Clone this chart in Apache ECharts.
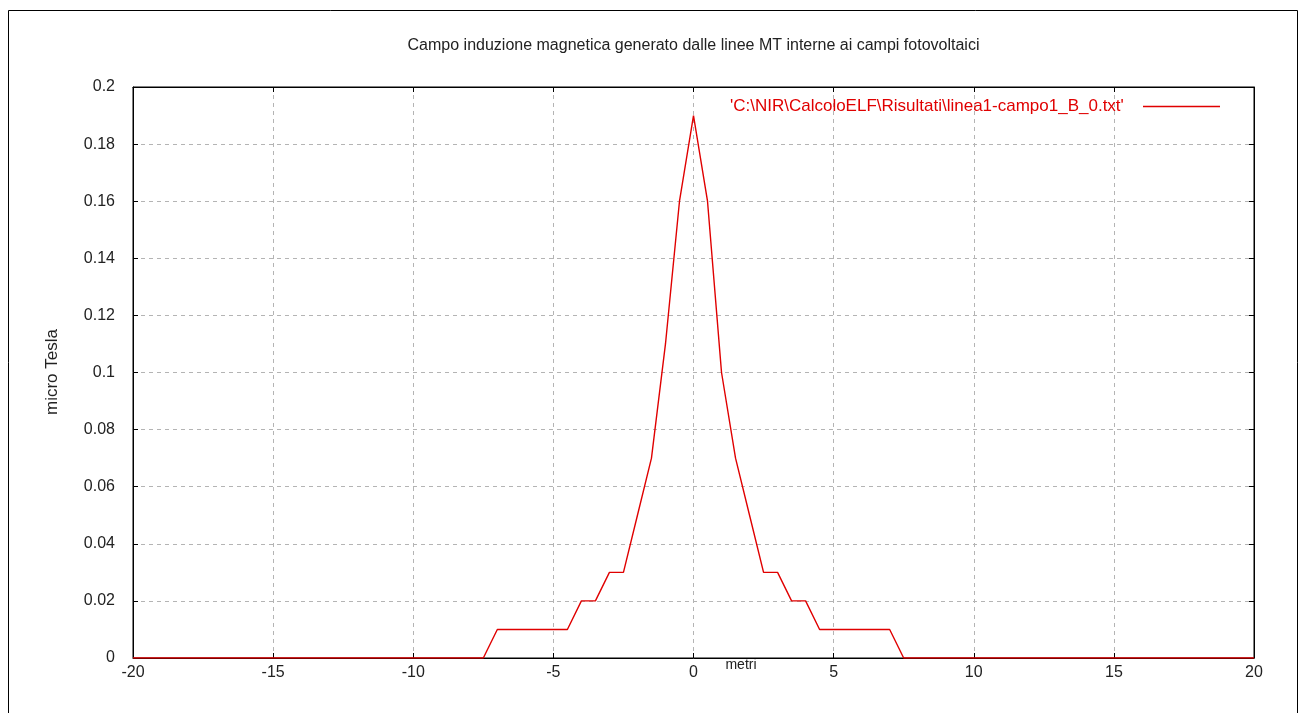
<!DOCTYPE html>
<html>
<head>
<meta charset="utf-8">
<script src="https://cdn.jsdelivr.net/npm/echarts@6/dist/echarts.min.js"></script>
<style>
html,body{margin:0;padding:0;background:#fff;}
#c{width:1306px;height:713px;}
</style>
</head>
<body>
<div id="c"></div>
<script>
var titleText = 'Campo induzione magnetica generato dalle linee MT interne ai campi fotovoltaici';
var seriesName = "'C:\\NIR\\CalcoloELF\\Risultati\\linea1-campo1_B_0.txt'";
var xLabel = 'metri';
var yLabel = 'micro Tesla';

// x positions in metres (0.5 m step)
var xValues = [
 -20,-19.5,-19,-18.5,-18,-17.5,-17,-16.5,-16,-15.5,
 -15,-14.5,-14,-13.5,-13,-12.5,-12,-11.5,-11,-10.5,
 -10,-9.5,-9,-8.5,-8,-7.5,-7,-6.5,-6,-5.5,
 -5,-4.5,-4,-3.5,-3,-2.5,-2,-1.5,-1,-0.5,
 0,
 0.5,1,1.5,2,2.5,3,3.5,4,4.5,5,
 5.5,6,6.5,7,7.5,8,8.5,9,9.5,10,
 10.5,11,11.5,12,12.5,13,13.5,14,14.5,15,
 15.5,16,16.5,17,17.5,18,18.5,19,19.5,20
];
// magnetic induction in micro Tesla
var bValues = [
 0,0,0,0,0,0,0,0,0,0,
 0,0,0,0,0,0,0,0,0,0,
 0,0,0,0,0,0,0.01,0.01,0.01,0.01,
 0.01,0.01,0.02,0.02,0.03,0.03,0.05,0.07,0.11,0.16,
 0.19,
 0.16,0.10,0.07,0.05,0.03,0.03,0.02,0.02,0.01,0.01,
 0.01,0.01,0.01,0.01,0,0,0,0,0,0,
 0,0,0,0,0,0,0,0,0,0,
 0,0,0,0,0,0,0,0,0,0
];
var xTicks = {min:-20, max:20, interval:5};
var yTicks = {min:0, max:0.2, interval:0.02};

var data = xValues.map(function(x,i){return [x,bValues[i]];});
var red = '#e00000';
var font = 'Liberation Sans, Arial, sans-serif';
var gridLine = {show:true, lineStyle:{color:'#b4b4b4', type:[4,4], width:1}};

var chart = echarts.init(document.getElementById('c'), null, {renderer:'canvas'});
chart.setOption({
  backgroundColor:'#fff',
  animation:false,
  legend:{
    data:[{name:seriesName, icon:'rect'}],
    right:81, top:93, align:'right', itemWidth:77, itemHeight:1.5, itemGap:18,
    formatter:function(n){return n + '   ';},
    textStyle:{fontFamily:font, fontSize:17, color:red},
    selectedMode:false
  },
  grid:{left:133, top:87, right:52, bottom:55, show:true, borderColor:'#000', borderWidth:1, containLabel:false},
  xAxis:[{
    type:'value', min:xTicks.min, max:xTicks.max, interval:xTicks.interval,
    axisLine:{show:true, onZero:false, lineStyle:{color:'#000'}},
    axisTick:{show:true, inside:true, length:5, lineStyle:{color:'#000'}},
    axisLabel:{margin:7, fontFamily:font, fontSize:16, color:'#222'},
    splitLine:gridLine
  },{
    type:'value', position:'top', min:xTicks.min, max:xTicks.max, interval:xTicks.interval,
    axisLine:{show:true, onZero:false, lineStyle:{color:'#000'}},
    axisTick:{show:true, inside:true, length:5, lineStyle:{color:'#000'}},
    axisLabel:{show:false}, splitLine:{show:false}
  }],
  yAxis:[{
    type:'value', min:yTicks.min, max:yTicks.max, interval:yTicks.interval,
    axisLine:{show:true, onZero:false, lineStyle:{color:'#000'}},
    axisTick:{show:true, inside:true, length:5, lineStyle:{color:'#000'}},
    axisLabel:{margin:18, fontFamily:font, fontSize:16, color:'#222',
      formatter:function(v){return String(Math.round(v*100)/100);}},
    splitLine:gridLine
  },{
    type:'value', position:'right', min:yTicks.min, max:yTicks.max, interval:yTicks.interval,
    axisLine:{show:true, onZero:false, lineStyle:{color:'#000'}},
    axisTick:{show:true, inside:true, length:5, lineStyle:{color:'#000'}},
    axisLabel:{show:false}, splitLine:{show:false}
  }],
  graphic:[
    {type:'rect', shape:{x:8.5, y:10.5, width:1289, height:720},
      style:{fill:'none', stroke:'#000', lineWidth:1}, silent:true, z:-1},
    {type:'text', x:693.5, y:46, style:{text:titleText, font:'16px '+font, fill:'#222', textAlign:'center', textVerticalAlign:'middle'}},
    {type:'text', x:741, y:665, style:{text:xLabel, font:'14px '+font, fill:'#222', textAlign:'center', textVerticalAlign:'middle'}},
    {type:'text', x:52, y:372, rotation:Math.PI/2, style:{text:yLabel, font:'17px '+font, fill:'#222', textAlign:'center', textVerticalAlign:'middle'}}
  ],
  series:[{
    name:seriesName, type:'line', data:data, showSymbol:false, symbol:'none',
    lineStyle:{color:red, width:1.4}, itemStyle:{color:red}
  }]
});
</script>
</body>
</html>
